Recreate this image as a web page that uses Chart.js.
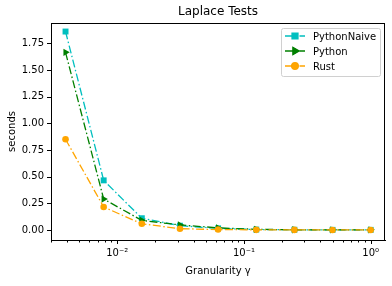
<!DOCTYPE html>
<html>
<head>
<meta charset="utf-8">
<script src="https://cdn.jsdelivr.net/npm/chart.js@4"></script>
<style>
  html, body { margin: 0; padding: 0; background: #fff; }
  #wrap { width: 392px; height: 286px; }
</style>
</head>
<body>
<div id="wrap"><canvas id="chart" width="392" height="286"></canvas></div>
<script>
// granularity values (x) and run times in seconds
const granularity = [1/256, 1/128, 1/64, 1/32, 1/16, 1/8, 1/4, 1/2, 1];
const pythonNaive = [1.86, 0.465, 0.11, 0.04, 0.015, 0.004, 0.002, 0.001, 0.001];
const python = [1.665, 0.29, 0.09, 0.047, 0.02, 0.006, 0.002, 0.001, 0.001];
const rust = [0.85, 0.215, 0.058, 0.012, 0.004, 0.001, 0.0005, 0.0003, 0.0002];
const yTicks = [0, 0.25, 0.5, 0.75, 1.0, 1.25, 1.5, 1.75];
const xMajor = [0.01, 0.1, 1];
const xMajorLabels = ["10\u207B\u00B2", "10\u207B\u00B9", "10\u2070"];

const FONT = "'DejaVu Sans', sans-serif";
const dash = [8, 2.5, 1.5, 2.5];

function pts(values) {
    return granularity.map((g, i) => ({x: g, y: values[i]}));
}

const series = [
    {label: "PythonNaive", data: pythonNaive, color: "#00bfbf", style: "rect", radius: 4.2, rot: 0, order: 3},
    {label: "Python", data: python, color: "#008000", style: "triangle", radius: 4.2, rot: 90, order: 2},
    {label: "Rust", data: rust, color: "#ffa500", style: "circle", radius: 3.3, rot: 0, order: 1},
];

// ticks, frame, title and legend drawn like matplotlib
const decorPlugin = {
    id: "decor",
    afterDraw(chart) {
        const ctx = chart.ctx;
        const area = chart.chartArea;
        const xs = chart.scales.x;
        const ys = chart.scales.y;
        ctx.save();
        ctx.strokeStyle = "#000";
        ctx.lineWidth = 1;
        // frame
        ctx.strokeRect(Math.round(area.left) + 0.5, Math.round(area.top) + 0.5,
            Math.round(area.right - area.left) - 1, Math.round(area.bottom - area.top));
        // x ticks, major and minor
        ctx.beginPath();
        for (let e = -3; e <= 0; e++) {
            for (let m = 1; m <= 9; m++) {
                const v = m * Math.pow(10, e);
                if (v < xs.min || v > xs.max) continue;
                const px = Math.round(xs.getPixelForValue(v)) + 0.5;
                const len = m === 1 ? 4 : 2.5;
                ctx.moveTo(px, area.bottom);
                ctx.lineTo(px, area.bottom + len);
            }
        }
        // y ticks
        yTicks.forEach(v => {
            const py = Math.round(ys.getPixelForValue(v)) + 0.5;
            ctx.moveTo(area.left, py);
            ctx.lineTo(area.left - 4, py);
        });
        ctx.stroke();

        // title
        ctx.fillStyle = "#000";
        ctx.font = "12px " + FONT;
        ctx.textAlign = "center";
        ctx.textBaseline = "middle";
        ctx.fillText("Laplace Tests", (area.left + area.right) / 2, 12);

        // legend
        const bx = 281.5, by = 28.5, bw = 99, bh = 48;
        ctx.beginPath();
        ctx.roundRect(bx, by, bw, bh, 2);
        ctx.fillStyle = "rgba(255,255,255,0.8)";
        ctx.fill();
        ctx.strokeStyle = "#d0d0d0";
        ctx.stroke();
        ctx.font = "10px " + FONT;
        ctx.textAlign = "left";
        series.forEach((s, i) => {
            const y = 36 + i * 15;
            ctx.strokeStyle = s.color;
            ctx.lineWidth = 1.3;
            ctx.setLineDash(dash);
            ctx.beginPath();
            ctx.moveTo(285, y);
            ctx.lineTo(305, y);
            ctx.stroke();
            ctx.setLineDash([]);
            Chart.helpers.drawPoint(ctx, {pointStyle: s.style, radius: s.radius, rotation: s.rot, borderWidth: 1}, 295, y);
            ctx.fillStyle = s.color;
            ctx.fill();
            ctx.fillStyle = "#000";
            ctx.fillText(s.label, 313, y + 1);
        });
        ctx.restore();
    }
};

new Chart(document.getElementById("chart"), {
    type: "line",
    data: {
        datasets: series.map(s => ({
            label: s.label,
            data: pts(s.data),
            borderColor: s.color,
            backgroundColor: s.color,
            borderWidth: 1.3,
            borderDash: dash,
            pointStyle: s.style,
            pointRadius: s.radius,
            pointRotation: s.rot,
            pointBorderWidth: 0,
            pointBackgroundColor: s.color,
            tension: 0,
            order: s.order,
        }))
    },
    options: {
        responsive: false,
        animation: false,
        devicePixelRatio: 1,
        layout: {padding: {top: 23, right: 7, left: 0, bottom: 0}},
        plugins: {legend: {display: false}, tooltip: {enabled: false}, title: {display: false}},
        scales: {
            x: {
                type: "logarithmic",
                min: 0.003,
                max: 1.297,
                afterBuildTicks: axis => { axis.ticks = xMajor.map(v => ({value: v, major: true})); },
                afterFit: axis => { axis.height = 46; },
                grid: {display: true, drawOnChartArea: false, drawTicks: true, tickLength: 4, tickColor: "rgba(0,0,0,0)"},
                border: {display: true, color: "#000", width: 1},
                ticks: {
                    autoSkip: false,
                    maxRotation: 0,
                    padding: 3,
                    color: "#000",
                    font: {family: FONT, size: 10},
                    callback: v => xMajorLabels[xMajor.indexOf(v)] || "",
                },
                title: {display: true, text: "Granularity \u03B3", color: "#000", font: {family: FONT, size: 10}, padding: {top: 0, bottom: 9}},
            },
            y: {
                type: "linear",
                min: -0.094,
                max: 1.94,
                afterBuildTicks: axis => { axis.ticks = yTicks.map(v => ({value: v})); },
                afterFit: axis => { axis.width = 51; },
                grid: {display: true, drawOnChartArea: false, drawTicks: true, tickLength: 4, tickColor: "rgba(0,0,0,0)"},
                border: {display: true, color: "#000", width: 1},
                ticks: {
                    padding: 3,
                    color: "#000",
                    font: {family: FONT, size: 10},
                    callback: v => v.toFixed(2),
                },
                title: {display: true, text: "seconds", color: "#000", font: {family: FONT, size: 10}, padding: {top: 6, bottom: 0}},
            }
        }
    },
    plugins: [decorPlugin]
});
</script>
</body>
</html>
